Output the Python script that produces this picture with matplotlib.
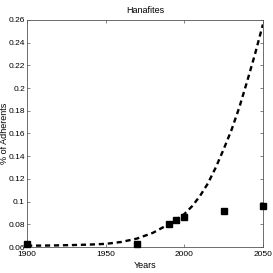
import numpy as np
import matplotlib
matplotlib.use('Agg')
from matplotlib import pyplot as plt

# observed adherents (%)
years = [1900, 1970, 1990, 1995, 2000, 2025, 2050]
adherents = [0.0629, 0.0624, 0.0805, 0.0835, 0.0864, 0.0915, 0.0961]

# fitted trend
fit_years = [1900, 1910, 1920, 1930, 1940, 1950, 1960, 1970, 1980, 1990,
             2000, 2005, 2010, 2015, 2020, 2025, 2030, 2035, 2040, 2045, 2050]
fit_values = [0.0612, 0.0613, 0.0615, 0.0618, 0.0622, 0.0628, 0.0645, 0.0675,
              0.0725, 0.0800, 0.0890, 0.0960, 0.1050, 0.1160, 0.1300, 0.1460,
              0.1630, 0.1830, 0.2060, 0.2300, 0.2560]

xticks = [1900, 1950, 2000, 2050]
yticks = [0.06, 0.08, 0.1, 0.12, 0.14, 0.16, 0.18, 0.2, 0.22, 0.24, 0.26]
yticknames = ['0.06', '0.08', '0.1', '0.12', '0.14', '0.16', '0.18', '0.2',
              '0.22', '0.24', '0.26']

plt.rcParams['font.family'] = 'Liberation Sans'
plt.rcParams['xtick.direction'] = 'in'
plt.rcParams['ytick.direction'] = 'in'
fs = 6.0

fig = plt.figure(figsize=(2.73, 2.73), dpi=100)
ax = fig.add_axes([0.099, 0.095, 0.864, 0.832])

ax.plot(fit_years, fit_values, linestyle=(0, (2.2, 1.6)), linewidth=1.7, color='k')
ax.plot(years, adherents, linestyle='none', marker='s', markersize=4,
        color='k', clip_on=False, zorder=5)

ax.set_xlim(1900, 2050)
ax.set_ylim(0.06, 0.26)
ax.set_xticks(xticks)
ax.set_xticklabels([str(x) for x in xticks], fontsize=fs)
ax.set_yticks(yticks)
ax.set_yticklabels(yticknames, fontsize=fs)
ax.tick_params(top=True, right=True, length=2, width=0.5, colors='#555555',
               labelcolor='k')
ax.tick_params(axis='x', pad=3)
ax.tick_params(axis='y', pad=1.5)
for sp in ax.spines.values():
    sp.set_linewidth(0.6)
    sp.set_color('#555555')

ax.set_title('Hanafites', fontsize=6.5, pad=5)
ax.set_xlabel('Years', fontsize=6.5, labelpad=2)
ax.set_ylabel('% of Adherents', fontsize=6.5)
ax.yaxis.set_label_coords(-0.078, 0.5)

plt.savefig('out.png', dpi=100, facecolor='w')
plt.close('all')
